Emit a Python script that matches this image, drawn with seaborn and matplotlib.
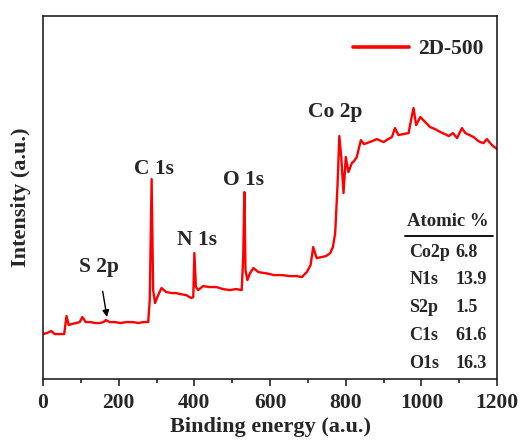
import pandas as pd
import seaborn as sns
import matplotlib
import matplotlib.pyplot as plt

matplotlib.use('Agg')

# XPS survey spectrum (intensity in arbitrary units)
binding_energy = [0, 10, 22, 31, 45, 56, 62, 68, 75, 88, 97, 104, 113, 125, 138, 150,
                  160, 166, 176, 190, 205, 220, 238, 252, 265, 278, 282, 287, 291, 296,
                  302, 313, 326, 340, 352, 362, 378, 392, 397, 400, 404, 410, 423, 440,
                  459, 475, 494, 510, 525, 529, 532, 535, 540, 547, 556, 569, 585, 600,
                  609, 630, 653, 670, 684, 697, 707, 714, 723, 736, 748, 759, 766, 772,
                  778, 783, 788, 794, 800, 807, 816, 822, 829, 840, 848, 856, 870, 882,
                  900, 912, 922, 930, 939, 952, 966, 973, 979, 986, 997, 1010, 1023,
                  1036, 1050, 1062, 1072, 1083, 1094, 1107, 1116, 1127, 1138, 1147,
                  1155, 1164, 1173, 1186, 1200]
intensity = [45, 46, 48, 45, 45, 45, 63, 54, 55, 56, 57, 62, 57, 57, 56, 56,
             57, 59, 57, 57, 56, 57, 57, 56, 57, 57, 79, 200, 89, 76,
             82, 91, 87, 86, 86, 85, 84, 81, 82, 126, 92, 89, 93, 92,
             92, 90, 89, 90, 89, 122, 187, 109, 99, 106, 111, 107, 106, 105,
             104, 104, 103, 103, 102, 107, 114, 132, 121, 122, 123, 126, 132, 146,
             192, 243, 222, 186, 222, 207, 216, 218, 222, 239, 235, 236, 238, 240,
             237, 240, 242, 251, 244, 245, 246, 260, 271, 254, 262, 257, 252,
             250, 247, 245, 243, 246, 241, 251, 246, 244, 242, 239,
             237, 236, 240, 234, 230]

peak_labels = ["C 1s", "N 1s", "O 1s", "Co 2p"]
peak_x = [293, 406, 531, 771]
peak_y = [210, 139, 199, 267]

table_elements = ["Co2p", "N1s", "S2p", "C1s", "O1s"]
table_values = ["6.8", "13.9", "1.5", "61.6", "16.3"]

df = pd.DataFrame({"Binding energy": binding_energy, "Intensity": intensity})

sns.set_style("ticks")
plt.rcParams['font.family'] = ['Liberation Serif', 'DejaVu Serif']
plt.rcParams['font.weight'] = 'bold'

fig = plt.figure(figsize=(5.22, 4.47), dpi=100)
ax = fig.add_axes([0.0824, 0.152, 0.87, 0.812])

sns.lineplot(data=df, x="Binding energy", y="Intensity", color='#ff0000',
             linewidth=1.7, ax=ax, label="2D-500")

ax.set_xlim(0, 1200)
ax.set_ylim(0, 363)
ax.set_xticks(range(0, 1201, 200))
ax.set_xticks(range(100, 1200, 200), minor=True)
ax.set_yticks([])
ax.tick_params(axis='x', direction='out', length=5, width=1.2, labelsize=15.5, pad=5)
ax.tick_params(axis='x', which='minor', direction='out', length=3, width=1.2)
for lbl in ax.get_xticklabels():
    lbl.set_fontweight('bold')
for sp in ax.spines.values():
    sp.set_linewidth(1.2)
    sp.set_color('#222222')

ax.set_xlabel("Binding energy (a.u.)", fontsize=16, fontweight='bold', labelpad=3)
ax.set_ylabel("Intensity (a.u.)", fontsize=16, fontweight='bold', labelpad=9)

# peak annotations
for name, px, py in zip(peak_labels, peak_x, peak_y):
    ax.text(px, py, name, fontsize=15.5, fontweight='bold', ha='center', va='center')
ax.annotate("S 2p", xy=(169, 62), xytext=(147, 112), fontsize=15.5, fontweight='bold',
            ha='center', va='center',
            arrowprops=dict(arrowstyle='-|>', color='black', lw=1.0,
                            shrinkA=8, shrinkB=0, mutation_scale=10))

# atomic % table
ax.text(0.892, 0.435, "Atomic %", transform=ax.transAxes, fontsize=13.5,
        fontweight='bold', ha='center', va='center')
ax.plot([0.797, 0.991], [0.394, 0.394], transform=ax.transAxes, color='black', lw=1.3)
for i, (el, val) in enumerate(zip(table_elements, table_values)):
    yy = 0.35 - i * 0.0765
    ax.text(0.807, yy, el, transform=ax.transAxes, fontsize=13,
            fontweight='bold', ha='left', va='center')
    ax.text(0.909, yy, val, transform=ax.transAxes, fontsize=13,
            fontweight='bold', ha='left', va='center')

leg = ax.legend(loc='upper right', frameon=False, fontsize=15.5, handlelength=2.6,
                handletextpad=0.4, bbox_to_anchor=(1.012, 0.99), borderaxespad=0.5)
for t in leg.get_texts():
    t.set_fontweight('bold')
for h in leg.get_lines():
    h.set_linewidth(2.6)

fig.savefig("out.png", dpi=100)
